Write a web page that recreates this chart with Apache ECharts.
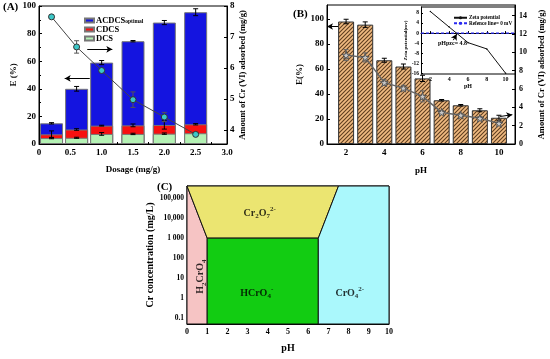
<!DOCTYPE html>
<html><head><meta charset="utf-8">
<script src="https://cdn.jsdelivr.net/npm/echarts@6/dist/echarts.min.js"></script>
<style>html,body{margin:0;padding:0;background:#fff}#c{width:550px;height:359px}</style>
</head><body><div id="c"></div>
<script>
// ---------- Panel A data ----------
const dosage = [0.2, 0.6, 1.0, 1.5, 2.0, 2.5];
const acdcsE = [15, 40, 59, 74.5, 88, 95.5];
const acdcsErr = [0.5, 1.7, 1.5, 0.5, 1.5, 2.5];
const cdcsE = [7, 10.5, 13.3, 13.5, 13.8, 14.3];
const cdcsErr = [2.5, 0.6, 0.3, 1, 3, 0.5];
const dcsE = [4.3, 4.5, 7.3, 7.3, 7.5, 7.8];
const dcsErr = [0.5, 0.4, 1, 0.5, 0.5, 0.4];
const amountA = [7.65, 6.68, 5.92, 4.98, 4.42, 3.86];
const amountAErr = [0.04, 0.2, 0.06, 0.25, 0.15, 0.05];
const amountATicks = [4, 5, 6, 7, 8];
// ---------- Panel B data ----------
const phB = [2, 3, 4, 5, 6, 7, 8, 9, 10];
const removalB = [98, 95.5, 67, 62, 52.5, 35, 31, 27, 21];
const removalErr = [1.8, 2.2, 1.6, 2, 2.5, 0.6, 0.6, 1.2, 2];
const amountB = [9.7, 9.45, 6.7, 6.1, 5.2, 3.45, 3.15, 2.8, 2.25];
const amountBErr = [0.6, 0.5, 0.3, 0.3, 0.6, 0.2, 0.15, 0.2, 0.2];
const phBLabels = [2, 4, 6, 8, 10];
const removalTicks = [0, 20, 40, 60, 80, 100];
const amountBTicks = [0, 2, 4, 6, 8, 10, 12, 14];
// ---------- Inset data ----------
const phZeta = [2, 4, 6, 8, 10];
const zeta = [8.6, 2.4, -3.8, -6.3, -16];
const refPh = [1, 11];
const refZeta = [0, 0];
const zetaTicks = [-16, -12, -8, -4, 0, 4, 8];
const pHpzc = 4.8;
// ---------- Panel C data ----------
const concMin = 0.052, concMax = 4e5;
const concTickLabels = ['0.1', '1', '10', '100', '1 000', '10,000', '100,000'];
const h2cro4Region = [[0, concMin], [1, concMin], [1, 1000], [0, concMax]];
const cr2o7Region = [[0, concMax], [1, 1000], [6.5, 1000], [7.5, concMax]];
const hcro4Region = [[1, concMin], [6.5, concMin], [6.5, 1000], [1, 1000]];
const cro4Region = [[6.5, concMin], [10, concMin], [10, concMax], [7.5, concMax], [6.5, 1000]];
const speciesLabels = [
  { name: 'Cr2O7', ph: 3.6, conc: 18000 },
  { name: 'HCrO4', ph: 3.45, conc: 1.8 },
  { name: 'CrO4', ph: 8.06, conc: 1.8 },
  { name: 'H2CrO4', ph: 0.66, conc: 12 }
];

const FF = '"Liberation Serif","Times New Roman",serif';
const txt = (size, extra) => Object.assign({ fontFamily: FF, fontWeight: 'bold', fontSize: size, color: '#000' }, extra || {});

// hatch pattern for B bars
const pc = document.createElement('canvas');
pc.width = 4; pc.height = 4;
const g = pc.getContext('2d');
g.fillStyle = '#f1bb82'; g.fillRect(0, 0, 4, 4);
g.strokeStyle = '#5e3d1e'; g.lineWidth = 1.1;
[0, 4, 8].forEach(c => { g.beginPath(); g.moveTo(c + 1, -1); g.lineTo(-1, c + 1); g.stroke(); });

function errBar(xi, yi, xs, ys, es, color, z) {
  return {
    type: 'custom', xAxisIndex: xi, yAxisIndex: yi, z: z || 5, silent: true,
    data: xs.map((x, i) => [x, ys[i] - es[i], ys[i] + es[i]]),
    encode: { x: 0, y: [1, 2] },
    renderItem: (p, api) => {
      const x = api.value(0);
      const a = api.coord([x, api.value(1)]), b = api.coord([x, api.value(2)]);
      const w = 2.5, st = { stroke: color, lineWidth: 1 };
      return { type: 'group', children: [
        { type: 'line', shape: { x1: a[0], y1: a[1], x2: b[0], y2: b[1] }, style: st },
        { type: 'line', shape: { x1: a[0] - w, y1: a[1], x2: a[0] + w, y2: a[1] }, style: st },
        { type: 'line', shape: { x1: b[0] - w, y1: b[1], x2: b[0] + w, y2: b[1] }, style: st }
      ] };
    }
  };
}
function region(pts, color) {
  return {
    type: 'custom', xAxisIndex: 3, yAxisIndex: 5, silent: true, z: 2,
    data: [pts[0]],
    renderItem: (p, api) => ({ type: 'polygon', shape: { points: pts.map(q => api.coord(q)) },
      style: { fill: color, stroke: '#111', lineWidth: 1 } })
  };
}
const arrowML = (pairs) => ({
  silent: true, symbol: ['none', 'arrow'], symbolSize: [5, 6],
  lineStyle: { color: '#000', width: 1, type: 'solid' }, label: { show: false },
  emphasis: { disabled: true },
  data: pairs.map(p => [{ coord: p[0] }, { coord: p[1] }])
});
const axisBase = (size) => ({
  axisLine: { show: true, lineStyle: { color: '#000', width: 1 } },
  axisTick: { show: true, inside: true, length: 3, lineStyle: { color: '#000' } },
  axisLabel: txt(size, { margin: 3 }),
  splitLine: { show: false }
});
const starPath = 'path://M50,0 L61,35 L98,35 L68,57 L79,91 L50,70 L21,91 L32,57 L2,35 L39,35 Z';

const chart = echarts.init(document.getElementById('c'));
const rich = {
  m: txt(10, { lineHeight: 14 }),
  sb: txt(7, { lineHeight: 7, verticalAlign: 'bottom' }),
  sp: txt(7, { lineHeight: 7, verticalAlign: 'top' })
};
const speciesFmt = {
  Cr2O7: '{m|Cr}{sb|2}{m|O}{sb|7}{sp|2-}',
  HCrO4: '{m|HCrO}{sb|4}{sp|-}',
  CrO4: '{m|CrO}{sb|4}{sp|2-}',
  H2CrO4: '{m|H}{sb|2}{m|CrO}{sb|4}'
};

chart.setOption({
  animation: false,
  backgroundColor: '#fff',
  grid: [
    { left: 39, top: 6, width: 188, height: 138, show: true, borderColor: '#000', borderWidth: 1, backgroundColor: 'transparent' },
    { left: 327, top: 5, width: 188, height: 139, show: true, borderColor: '#000', borderWidth: 1, backgroundColor: 'transparent' },
    { left: 421, top: 7, width: 94, height: 67, show: true, borderColor: '#000', borderWidth: 1, backgroundColor: '#fff' },
    { left: 187, top: 186, width: 202, height: 138, show: true, borderColor: '#000', borderWidth: 1, backgroundColor: 'transparent' }
  ],
  legend: [
    { left: 79, top: 11, orient: 'vertical', itemWidth: 9, itemHeight: 4, itemGap: 0, icon: 'rect',
      data: ['ACDCS', 'CDCS', 'DCS'], selectedMode: false,
      formatter: n => n === 'ACDCS' ? '{a|ACDCS}{s|optimal}' : '{a|' + n + '}',
      textStyle: { padding: [0, 0, 0, -3], rich: { a: txt(8.5, { lineHeight: 7.5 }), s: txt(5.5, { lineHeight: 5, verticalAlign: 'bottom' }) } } },
    { left: 448, top: 10, orient: 'vertical', itemWidth: 13, itemHeight: 4, itemGap: 0, z: 20,
      data: ['Zeta potential', 'Refence line= 0 mV'], selectedMode: false,
      textStyle: txt(5.2, { lineHeight: 5.5, padding: [0, 0, 0, -3], width: 60, overflow: 'none' }) }
  ],
  xAxis: [
    Object.assign(axisBase(9), { gridIndex: 0, type: 'value', min: 0, max: 3, interval: 0.5,
      axisLabel: txt(9, { margin: 4, formatter: v => v === 0 ? '0' : v.toFixed(1) }),
      minorTick: { show: true, splitNumber: 2, length: 2, lineStyle: { color: '#000' } },
      name: 'Dosage (mg/g)', nameLocation: 'middle', nameGap: 21, nameTextStyle: txt(9) }),
    Object.assign(axisBase(9), { gridIndex: 1, type: 'value', min: 1, max: 10.84,
      axisLabel: txt(9, { margin: 4, customValues: phBLabels }),
      axisTick: { show: true, inside: true, length: 3, customValues: phB, lineStyle: { color: '#000' } },
      name: 'pH', nameLocation: 'middle', nameGap: 22, nameTextStyle: txt(9) }),
    Object.assign(axisBase(6), { gridIndex: 2, type: 'value', min: 1, max: 11, z: 10,
      axisLabel: txt(6, { margin: 2, customValues: phBLabels }),
      axisTick: { show: true, inside: true, length: 2, customValues: phBLabels, lineStyle: { color: '#000' } },
      name: 'pH', nameLocation: 'middle', nameGap: 9, nameTextStyle: txt(6) }),
    Object.assign(axisBase(8), { gridIndex: 3, type: 'value', min: 0, max: 10, interval: 1,
      axisLabel: txt(8, { margin: 4 }),
      axisTick: { show: false },
      name: 'pH', nameLocation: 'middle', nameGap: 19, nameTextStyle: txt(10) })
  ],
  yAxis: [
    Object.assign(axisBase(9), { gridIndex: 0, type: 'value', min: 0, max: 100, interval: 20, position: 'left',
      minorTick: { show: true, splitNumber: 2, length: 2, lineStyle: { color: '#000' } },
      name: 'E (%)', nameLocation: 'middle', nameGap: 13, nameTextStyle: txt(9) }),
    Object.assign(axisBase(9), { gridIndex: 0, type: 'value', min: 3.55, max: 8, position: 'right',
      axisLabel: txt(9, { margin: 3, customValues: amountATicks }),
      axisTick: { show: true, inside: true, length: 3, customValues: amountATicks, lineStyle: { color: '#000' } },
      name: 'Amount of Cr (VI) adsorbed (mg/g)', nameLocation: 'middle', nameGap: 10, nameTextStyle: txt(8.5) }),
    Object.assign(axisBase(9), { gridIndex: 1, type: 'value', min: 0, max: 111.2, position: 'left',
      axisLabel: txt(9, { margin: 3, customValues: removalTicks }),
      axisTick: { show: true, inside: true, length: 3, customValues: removalTicks, lineStyle: { color: '#000' } },
      name: 'E(%)', nameLocation: 'middle', nameGap: 23, nameTextStyle: txt(9) }),
    Object.assign(axisBase(8), { gridIndex: 1, type: 'value', min: 0, max: 15.17, position: 'right',
      axisLabel: txt(8, { margin: 4, customValues: amountBTicks }),
      axisTick: { show: true, inside: true, length: 3, customValues: amountBTicks, lineStyle: { color: '#000' } },
      name: 'Amount of Cr (VI) adsorbed (mg/g)', nameLocation: 'middle', nameGap: 22, nameTextStyle: txt(8.5) }),
    Object.assign(axisBase(5.5), { gridIndex: 2, type: 'value', min: -16.3, max: 10.4, position: 'left', z: 10,
      axisLabel: txt(5.5, { margin: 2, customValues: zetaTicks }),
      axisTick: { show: true, inside: true, length: 2, customValues: zetaTicks, lineStyle: { color: '#000' } },
      name: 'Zeta potential(mv)', nameLocation: 'middle', nameGap: 10, nameTextStyle: txt(5) }),
    Object.assign(axisBase(7.5), { gridIndex: 3, type: 'log', logBase: 10, min: concMin, max: concMax, position: 'left',
      axisTick: { show: false },
      axisLabel: txt(7.5, { margin: 3, formatter: v => {
        const l = Math.log10(v), r = Math.round(l);
        if (Math.abs(l - r) > 0.01 || r < -1 || r > 5) return '';
        return concTickLabels[r + 1];
      } }),
      name: 'Cr concentration (mg/L)', nameLocation: 'middle', nameGap: 27, nameTextStyle: txt(10) })
  ],
  series: [
    { type: 'bar', name: 'ACDCS', xAxisIndex: 0, yAxisIndex: 0, barWidth: 23, barGap: '-100%', z: 2,
      data: dosage.map((x, i) => [x, acdcsE[i]]),
      itemStyle: { color: '#1414e0', borderColor: '#777', borderWidth: 1 },
      markLine: arrowML([[[0.77, 68.6], [1.17, 68.6]], [[0.81, 47.5], [0.41, 47.5]]]) },
    { type: 'bar', name: 'CDCS', xAxisIndex: 0, yAxisIndex: 0, barWidth: 23, barGap: '-100%', z: 2,
      data: dosage.map((x, i) => [x, cdcsE[i]]),
      itemStyle: { color: '#f81010', borderColor: '#777', borderWidth: 1 } },
    { type: 'bar', name: 'DCS', xAxisIndex: 0, yAxisIndex: 0, barWidth: 23, barGap: '-100%', z: 2,
      data: dosage.map((x, i) => [x, dcsE[i]]),
      itemStyle: { color: '#b4f2b4', borderColor: '#777', borderWidth: 1 } },
    errBar(0, 0, dosage, acdcsE, acdcsErr, '#000'),
    errBar(0, 0, dosage, cdcsE, cdcsErr, '#000'),
    errBar(0, 0, dosage, dcsE, dcsErr, '#000'),
    { type: 'line', name: 'amountA', xAxisIndex: 0, yAxisIndex: 1, z: 6,
      data: dosage.map((x, i) => [x, amountA[i]]),
      lineStyle: { color: '#444', width: 1 }, symbol: 'circle', symbolSize: 6,
      itemStyle: { color: '#3cc8c8', borderColor: '#333', borderWidth: 1 } },
    errBar(0, 1, dosage, amountA, amountAErr, '#555', 5),
    // Panel B
    { type: 'bar', name: 'removalB', xAxisIndex: 1, yAxisIndex: 2, barWidth: 16, z: 2,
      data: phB.map((x, i) => [x, removalB[i]]),
      itemStyle: { color: { image: pc, repeat: 'repeat' }, borderColor: '#333', borderWidth: 1 },
      markLine: arrowML([[[1.58, 94], [1.0, 94]]]) },
    errBar(1, 2, phB, removalB, removalErr, '#000'),
    { type: 'line', name: 'amountB', xAxisIndex: 1, yAxisIndex: 3, z: 6,
      data: phB.map((x, i) => [x, amountB[i]]),
      lineStyle: { color: '#666', width: 1.5 }, symbol: starPath, symbolSize: 8,
      itemStyle: { color: '#c8c8c8', borderColor: '#555', borderWidth: 1 },
      markLine: arrowML([[[10.06, 3.0], [10.7, 3.2]]]) },
    errBar(1, 3, phB, amountB, amountBErr, '#666', 5),
    // Inset
    { type: 'line', name: 'Zeta potential', xAxisIndex: 2, yAxisIndex: 4, z: 12,
      data: phZeta.map((x, i) => [x, zeta[i]]),
      lineStyle: { color: '#111', width: 1 }, symbol: 'circle', symbolSize: 1.5, itemStyle: { color: '#111' },
      markLine: arrowML([[[4.44, -2.8], [pHpzc, -0.4]]]) },
    { type: 'line', name: 'Refence line= 0 mV', xAxisIndex: 2, yAxisIndex: 4, z: 11,
      data: refPh.map((x, i) => [x, refZeta[i]]),
      lineStyle: { color: '#2828f0', width: 1.2, type: [3, 2] }, symbol: 'none', itemStyle: { color: '#2828f0' } },
    // Panel C
    region(h2cro4Region, '#f6c4c4'),
    region(cr2o7Region, '#ebe571'),
    region(hcro4Region, '#12cc12'),
    region(cro4Region, '#aaf8fc'),
    { type: 'scatter', xAxisIndex: 3, yAxisIndex: 5, symbolSize: 0, z: 5, silent: true,
      data: speciesLabels.map(s => ({ value: [s.ph, s.conc], name: s.name,
        label: s.name === 'H2CrO4' ? { rotate: 90 } : {} })),
      label: { show: true, position: 'inside', formatter: p => speciesFmt[p.name], rich: rich } }
  ],
  graphic: [
    { type: 'rect', shape: { x: 411, y: 7, width: 10, height: 67 }, style: { fill: '#fff' }, z: 1 },
    { type: 'text', left: 3, top: 2, style: { text: '(A)', font: 'bold 11px ' + FF, fill: '#000' } },
    { type: 'text', left: 293, top: 9, style: { text: '(B)', font: 'bold 11px ' + FF, fill: '#000' } },
    { type: 'text', left: 157, top: 182, style: { text: '(C)', font: 'bold 11px ' + FF, fill: '#000' } },
    { type: 'text', left: 438, top: 40, z: 20, style: { text: 'pHpzc= ' + pHpzc, font: 'bold 6px ' + FF, fill: '#000' } }
  ]
});
</script></body></html>
